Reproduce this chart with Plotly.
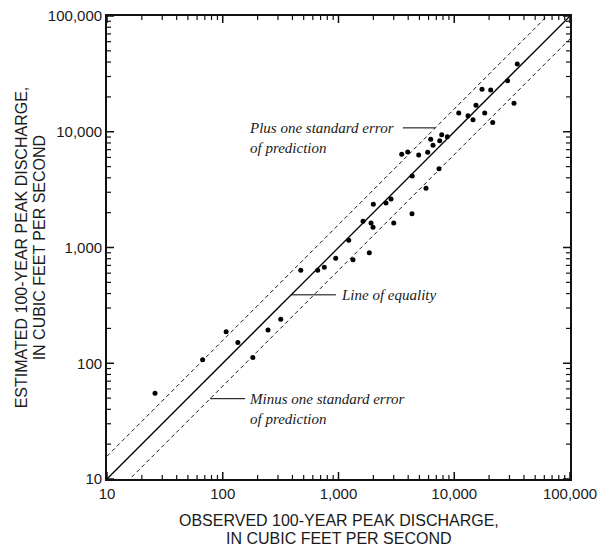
import plotly.graph_objects as go

# Observed vs. estimated 100-year peak discharge (cubic feet per second)
observed = [26, 67, 107, 135, 182, 246, 317, 472, 661, 754, 946, 1225, 1334,
            1628, 1846, 1909, 1987, 2000, 2573, 2842, 3000, 3516, 3961, 4315,
            4332, 4931, 5701, 5897, 6258, 6552, 7383, 7486, 7792, 8710, 10930,
            13150, 14520, 15410, 17370, 18330, 20650, 21490, 28960, 32830, 35050]
estimated = [55, 107, 187, 151, 112, 194, 240, 635, 635, 675, 807, 1154, 785,
             1684, 902, 1628, 1495, 2362, 2424, 2624, 1628, 6387, 6686, 1959,
             4147, 6298, 3248, 6646, 8604, 7636, 4786, 8369, 9431, 9063, 14520,
             13760, 12710, 16920, 23260, 14520, 22950, 12020, 27610, 17610, 38490]

# Axis ticks
major_vals = [10, 100, 1000, 10000, 100000]
minor_vals = [m * d for d in [10, 100, 1000, 10000] for m in range(2, 10)]

x_title = ["OBSERVED 100-YEAR PEAK DISCHARGE,", "IN CUBIC FEET PER SECOND"]
y_title = ["ESTIMATED 100-YEAR PEAK DISCHARGE,", "IN CUBIC FEET PER SECOND"]

# Reference lines: equality and +/- one standard error (log10 units)
line_ends = [10, 100000]
std_error_log = 0.197
se_factor = 10 ** std_error_log

AX_MIN, AX_MAX = 10, 100000
DECADES = 4
PLOT_PX = 463  # side of the square plotting area


def tick_segments(values, length_px):
    """Inside tick marks on all four sides, as log-space line segments."""
    f = 10 ** (DECADES * length_px / PLOT_PX)
    xs, ys = [], []
    for v in values:
        xs += [v, v, None, v, v, None, AX_MIN, AX_MIN * f, None, AX_MAX, AX_MAX / f, None]
        ys += [AX_MIN, AX_MIN * f, None, AX_MAX, AX_MAX / f, None, v, v, None, v, v, None]
    return xs, ys


fig = go.Figure()

fig.add_trace(go.Scatter(x=line_ends, y=line_ends, mode="lines",
                         line=dict(color="black", width=1.3), hoverinfo="skip"))
fig.add_trace(go.Scatter(x=line_ends, y=[v * se_factor for v in line_ends], mode="lines",
                         line=dict(color="black", width=0.9, dash="4px,3px"), hoverinfo="skip"))
fig.add_trace(go.Scatter(x=line_ends, y=[v / se_factor for v in line_ends], mode="lines",
                         line=dict(color="black", width=0.9, dash="4px,3px"), hoverinfo="skip"))

fig.add_trace(go.Scatter(x=observed, y=estimated, mode="markers",
                         marker=dict(color="black", size=5)))

# Leader lines for the labels
plus_y = 10800
fig.add_trace(go.Scatter(x=[3600, plus_y / se_factor], y=[plus_y, plus_y], mode="lines",
                         line=dict(color="black", width=1), hoverinfo="skip"))
fig.add_trace(go.Scatter(x=[390, 950], y=[390, 390], mode="lines",
                         line=dict(color="black", width=1), hoverinfo="skip"))
minus_y = 49.4
fig.add_trace(go.Scatter(x=[minus_y * se_factor, 156], y=[minus_y, minus_y], mode="lines",
                         line=dict(color="black", width=1), hoverinfo="skip"))

# Major and minor tick marks
mx, my = tick_segments(major_vals, 7)
fig.add_trace(go.Scatter(x=mx, y=my, mode="lines", connectgaps=False,
                         line=dict(color="#111111", width=1.5), hoverinfo="skip"))
nx, ny = tick_segments(minor_vals, 4)
fig.add_trace(go.Scatter(x=nx, y=ny, mode="lines", connectgaps=False,
                         line=dict(color="#111111", width=1.2), hoverinfo="skip"))

label_font = dict(family="Liberation Serif", size=15, color="#1a1a1a")
annotations = [
    dict(x=2.207, y=4.035, text="<i>Plus one standard error<br>of prediction</i>"),
    dict(x=3.007, y=2.592, text="<i>Line of equality</i>"),
    dict(x=2.207, y=1.694, text="<i>Minus one standard error<br>of prediction</i>"),
]
for a in annotations:
    a.update(xref="x", yref="y", xanchor="left", yanchor="top", align="left",
             showarrow=False, font=label_font, yshift=10)

# Axis titles, one annotation per line
title_font = dict(family="Liberation Sans", size=16, color="#1a1a1a")
for i, line in enumerate(x_title):
    annotations.append(dict(xref="paper", yref="paper", x=0.5, y=-0.089 - i * 0.039,
                            xanchor="center", yanchor="middle", text=line,
                            showarrow=False, font=title_font))
for i, line in enumerate(y_title):
    annotations.append(dict(xref="paper", yref="paper", x=-0.184 + i * 0.039, y=0.5,
                            xanchor="center", yanchor="middle", text=line, textangle=-90,
                            showarrow=False, font=title_font))

tick_font = dict(family="Liberation Sans", size=15, color="#1a1a1a")

# Log axes with thousands separators; frame line on all four sides
axis_common = dict(
    type="log", range=[1, 5], tickvals=major_vals, tickformat=",",
    ticks="", showline=True, linecolor="#111111", linewidth=1.8, mirror=True,
    showgrid=False, zeroline=False, automargin=False,
    tickfont=tick_font,
)

fig.update_layout(
    width=600, height=548,
    margin=dict(l=107, r=30, t=16, b=69),
    paper_bgcolor="white", plot_bgcolor="white",
    showlegend=False,
    xaxis=axis_common,
    yaxis=axis_common,
    annotations=annotations,
)

fig.write_html("out.html")
